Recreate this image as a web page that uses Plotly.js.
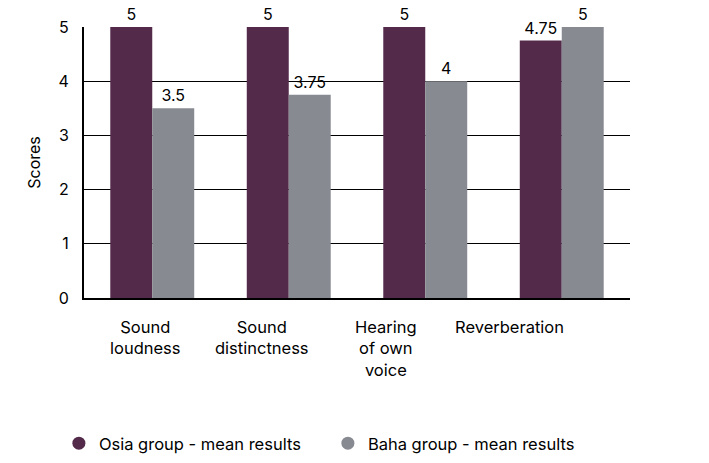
<!DOCTYPE html>
<html><head><meta charset="utf-8">
<script src="https://cdn.plot.ly/plotly-3.0.1.min.js"></script>
<style>body{margin:0;padding:0;background:#fff}#chart{width:709px;height:463px}</style>
</head><body><div id="chart"></div>
<script>
const categories = ["Sound loudness", "Sound distinctness", "Hearing of own voice", "Reverberation"];
const tickLabels = ["Sound<br>loudness", "Sound<br>distinctness", "Hearing<br>of own<br>voice", "Reverberation"];
const osiaValues = [5, 5, 5, 4.75];
const bahaValues = [3.5, 3.75, 4, 5];
const osiaLabels = ["5", "5", "5", "4.75"];
const bahaLabels = ["3.5", "3.75", "4", "5"];
const seriesNames = ["Osia group - mean results", "Baha group - mean results"];

const labelShift = [-7, -27, -39, -52];
const FONT = "Inter, 'DejaVu Sans', sans-serif";
const cOsia = "#532a4a", cBaha = "#878a91";

const traces = [
  {type:"bar", x:categories, y:osiaValues, text:osiaLabels, textposition:"outside", cliponaxis:false,
   marker:{color:cOsia}, showlegend:false, hoverinfo:"skip",
   textfont:{family:FONT, size:16, color:"#000"}},
  {type:"bar", x:categories, y:bahaValues, text:bahaLabels, textposition:"outside", cliponaxis:false,
   marker:{color:cBaha}, showlegend:false, hoverinfo:"skip",
   textfont:{family:FONT, size:16, color:"#000"}},
  {type:"scatter", mode:"markers", x:[null], y:[null], name:seriesNames[0],
   marker:{symbol:"circle", size:13, color:cOsia}},
  {type:"scatter", mode:"markers", x:[null], y:[null], name:seriesNames[1],
   marker:{symbol:"circle", size:13, color:cBaha}}
];

const annotations = categories.map((c, i) => ({
  x: c, xref:"x", y: 0, yref:"paper", yanchor:"top", xanchor:"center", yshift:-17, xshift: labelShift[i],
  text: tickLabels[i], showarrow:false, align:"center",
  font:{family:FONT, size:16.5, color:"#000"}
}));

const layout = {
  width:709, height:463,
  margin:{l:84, r:79, t:27, b:165, autoexpand:false},
  paper_bgcolor:"#fff", plot_bgcolor:"#fff",
  font:{family:FONT, size:16, color:"#000"},
  barmode:"group", bargap:0.385, bargroupgap:0,
  xaxis:{type:"category", showticklabels:false, ticks:"", showline:true, linecolor:"#000", linewidth:2,
         showgrid:false, zeroline:false, fixedrange:true},
  yaxis:{range:[0,5], dtick:1, showline:true, linecolor:"#000", linewidth:2, showgrid:true,
         gridcolor:"#000", gridwidth:1, zeroline:false, ticks:"", ticklabelstandoff:10,
         tickfont:{family:FONT, size:16, color:"#000"},
         title:{text:"Scores", font:{family:FONT, size:16, color:"#000"}, standoff:14}},
  legend:{orientation:"h", x:-0.046, xanchor:"left", y:-0.472, yanchor:"top",
          entrywidth:224, entrywidthmode:"pixels", itemwidth:30,
          font:{family:FONT, size:16.5, color:"#000"}},
  annotations: annotations,
  showlegend:true
};

Plotly.newPlot("chart", traces, layout, {displayModeBar:false, staticPlot:true});
</script></body></html>
